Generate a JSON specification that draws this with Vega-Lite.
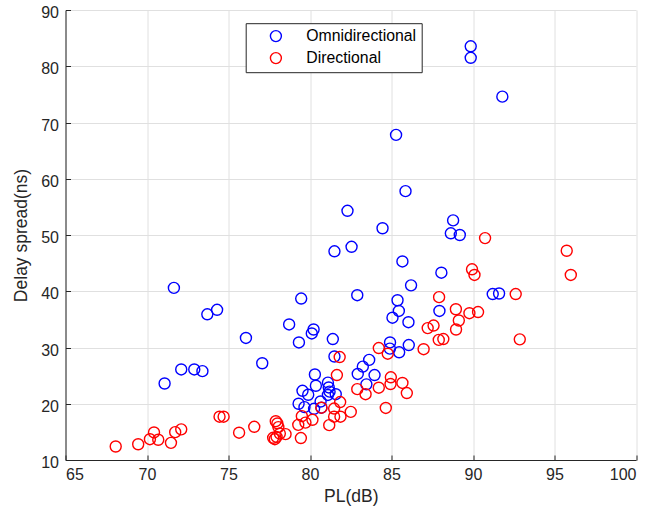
{
  "$schema": "https://vega.github.io/schema/vega-lite/v6.json",
  "autosize": {"type": "none"},
  "padding": {"left": 65.5, "top": 10, "right": 31, "bottom": 56},
  "width": 570.5,
  "height": 450,
  "background": "white",
  "config": {"view": {"stroke": null}, "font": "Liberation Sans"},
  "datasets": {
    "pts": [
      {"pl": 71.65, "delay": 40.6, "type": "Omnidirectional"},
      {"pl": 73.7, "delay": 35.9, "type": "Omnidirectional"},
      {"pl": 74.3, "delay": 36.7, "type": "Omnidirectional"},
      {"pl": 76.07, "delay": 31.7, "type": "Omnidirectional"},
      {"pl": 77.07, "delay": 27.2, "type": "Omnidirectional"},
      {"pl": 78.72, "delay": 34.1, "type": "Omnidirectional"},
      {"pl": 79.32, "delay": 30.9, "type": "Omnidirectional"},
      {"pl": 79.46, "delay": 38.7, "type": "Omnidirectional"},
      {"pl": 80.11, "delay": 32.5, "type": "Omnidirectional"},
      {"pl": 80.22, "delay": 33.2, "type": "Omnidirectional"},
      {"pl": 81.4, "delay": 31.5, "type": "Omnidirectional"},
      {"pl": 81.5, "delay": 47.1, "type": "Omnidirectional"},
      {"pl": 82.55, "delay": 47.9, "type": "Omnidirectional"},
      {"pl": 82.9, "delay": 39.3, "type": "Omnidirectional"},
      {"pl": 81.5, "delay": 28.4, "type": "Omnidirectional"},
      {"pl": 72.1, "delay": 26.1, "type": "Omnidirectional"},
      {"pl": 72.9, "delay": 26.1, "type": "Omnidirectional"},
      {"pl": 73.4, "delay": 25.8, "type": "Omnidirectional"},
      {"pl": 71.08, "delay": 23.6, "type": "Omnidirectional"},
      {"pl": 80.3, "delay": 25.2, "type": "Omnidirectional"},
      {"pl": 80.36, "delay": 23.2, "type": "Omnidirectional"},
      {"pl": 81.1, "delay": 23.75, "type": "Omnidirectional"},
      {"pl": 81.15, "delay": 22.9, "type": "Omnidirectional"},
      {"pl": 81.2, "delay": 22.15, "type": "Omnidirectional"},
      {"pl": 81.1, "delay": 21.56, "type": "Omnidirectional"},
      {"pl": 81.58, "delay": 21.7, "type": "Omnidirectional"},
      {"pl": 79.54, "delay": 22.3, "type": "Omnidirectional"},
      {"pl": 79.89, "delay": 21.6, "type": "Omnidirectional"},
      {"pl": 79.3, "delay": 20.0, "type": "Omnidirectional"},
      {"pl": 79.66, "delay": 19.4, "type": "Omnidirectional"},
      {"pl": 80.25, "delay": 19.1, "type": "Omnidirectional"},
      {"pl": 80.65, "delay": 20.4, "type": "Omnidirectional"},
      {"pl": 80.7, "delay": 19.3, "type": "Omnidirectional"},
      {"pl": 82.93, "delay": 25.3, "type": "Omnidirectional"},
      {"pl": 83.24, "delay": 26.6, "type": "Omnidirectional"},
      {"pl": 83.63, "delay": 27.8, "type": "Omnidirectional"},
      {"pl": 83.96, "delay": 25.1, "type": "Omnidirectional"},
      {"pl": 83.46, "delay": 23.45, "type": "Omnidirectional"},
      {"pl": 84.91, "delay": 30.9, "type": "Omnidirectional"},
      {"pl": 84.9, "delay": 29.8, "type": "Omnidirectional"},
      {"pl": 85.47, "delay": 29.15, "type": "Omnidirectional"},
      {"pl": 86.06, "delay": 30.44, "type": "Omnidirectional"},
      {"pl": 85.06, "delay": 35.3, "type": "Omnidirectional"},
      {"pl": 85.45, "delay": 36.5, "type": "Omnidirectional"},
      {"pl": 85.37, "delay": 38.4, "type": "Omnidirectional"},
      {"pl": 86.04, "delay": 34.5, "type": "Omnidirectional"},
      {"pl": 87.94, "delay": 36.5, "type": "Omnidirectional"},
      {"pl": 86.2, "delay": 41.05, "type": "Omnidirectional"},
      {"pl": 85.67, "delay": 45.3, "type": "Omnidirectional"},
      {"pl": 88.06, "delay": 43.3, "type": "Omnidirectional"},
      {"pl": 84.45, "delay": 51.2, "type": "Omnidirectional"},
      {"pl": 82.3, "delay": 54.3, "type": "Omnidirectional"},
      {"pl": 85.86, "delay": 57.8, "type": "Omnidirectional"},
      {"pl": 85.28, "delay": 67.8, "type": "Omnidirectional"},
      {"pl": 89.86, "delay": 83.55, "type": "Omnidirectional"},
      {"pl": 89.86, "delay": 81.5, "type": "Omnidirectional"},
      {"pl": 91.8, "delay": 74.6, "type": "Omnidirectional"},
      {"pl": 88.78, "delay": 52.6, "type": "Omnidirectional"},
      {"pl": 88.64, "delay": 50.3, "type": "Omnidirectional"},
      {"pl": 89.19, "delay": 50.0, "type": "Omnidirectional"},
      {"pl": 91.21, "delay": 39.5, "type": "Omnidirectional"},
      {"pl": 91.6, "delay": 39.6, "type": "Omnidirectional"},
      {"pl": 68.08, "delay": 12.4, "type": "Directional"},
      {"pl": 69.46, "delay": 12.8, "type": "Directional"},
      {"pl": 70.18, "delay": 13.7, "type": "Directional"},
      {"pl": 70.43, "delay": 14.9, "type": "Directional"},
      {"pl": 70.69, "delay": 13.6, "type": "Directional"},
      {"pl": 71.47, "delay": 13.05, "type": "Directional"},
      {"pl": 71.73, "delay": 14.95, "type": "Directional"},
      {"pl": 72.1, "delay": 15.45, "type": "Directional"},
      {"pl": 74.45, "delay": 17.7, "type": "Directional"},
      {"pl": 74.7, "delay": 17.7, "type": "Directional"},
      {"pl": 75.65, "delay": 14.85, "type": "Directional"},
      {"pl": 76.58, "delay": 15.9, "type": "Directional"},
      {"pl": 77.9, "delay": 16.9, "type": "Directional"},
      {"pl": 78.0, "delay": 16.5, "type": "Directional"},
      {"pl": 78.06, "delay": 15.85, "type": "Directional"},
      {"pl": 77.74, "delay": 13.95, "type": "Directional"},
      {"pl": 77.84, "delay": 13.7, "type": "Directional"},
      {"pl": 77.95, "delay": 14.1, "type": "Directional"},
      {"pl": 78.15, "delay": 14.7, "type": "Directional"},
      {"pl": 78.5, "delay": 14.6, "type": "Directional"},
      {"pl": 79.44, "delay": 13.9, "type": "Directional"},
      {"pl": 79.28, "delay": 16.25, "type": "Directional"},
      {"pl": 79.5, "delay": 17.8, "type": "Directional"},
      {"pl": 79.72, "delay": 16.65, "type": "Directional"},
      {"pl": 80.15, "delay": 17.15, "type": "Directional"},
      {"pl": 80.7, "delay": 19.3, "type": "Directional"},
      {"pl": 81.18, "delay": 16.2, "type": "Directional"},
      {"pl": 81.48, "delay": 19.15, "type": "Directional"},
      {"pl": 81.48, "delay": 17.7, "type": "Directional"},
      {"pl": 81.87, "delay": 17.7, "type": "Directional"},
      {"pl": 81.85, "delay": 20.3, "type": "Directional"},
      {"pl": 82.5, "delay": 18.55, "type": "Directional"},
      {"pl": 81.65, "delay": 25.1, "type": "Directional"},
      {"pl": 81.82, "delay": 28.3, "type": "Directional"},
      {"pl": 82.9, "delay": 22.6, "type": "Directional"},
      {"pl": 83.41, "delay": 21.7, "type": "Directional"},
      {"pl": 84.22, "delay": 22.85, "type": "Directional"},
      {"pl": 84.65, "delay": 19.25, "type": "Directional"},
      {"pl": 84.96, "delay": 24.7, "type": "Directional"},
      {"pl": 84.94, "delay": 23.5, "type": "Directional"},
      {"pl": 85.67, "delay": 23.7, "type": "Directional"},
      {"pl": 85.94, "delay": 21.9, "type": "Directional"},
      {"pl": 84.22, "delay": 29.9, "type": "Directional"},
      {"pl": 84.77, "delay": 28.9, "type": "Directional"},
      {"pl": 86.97, "delay": 29.7, "type": "Directional"},
      {"pl": 87.22, "delay": 33.45, "type": "Directional"},
      {"pl": 87.58, "delay": 33.9, "type": "Directional"},
      {"pl": 87.9, "delay": 31.35, "type": "Directional"},
      {"pl": 88.18, "delay": 31.5, "type": "Directional"},
      {"pl": 87.92, "delay": 38.95, "type": "Directional"},
      {"pl": 88.95, "delay": 36.8, "type": "Directional"},
      {"pl": 89.13, "delay": 34.8, "type": "Directional"},
      {"pl": 88.96, "delay": 33.2, "type": "Directional"},
      {"pl": 89.78, "delay": 36.1, "type": "Directional"},
      {"pl": 90.31, "delay": 36.3, "type": "Directional"},
      {"pl": 89.94, "delay": 43.9, "type": "Directional"},
      {"pl": 90.09, "delay": 42.9, "type": "Directional"},
      {"pl": 90.74, "delay": 49.45, "type": "Directional"},
      {"pl": 92.62, "delay": 39.5, "type": "Directional"},
      {"pl": 92.87, "delay": 31.45, "type": "Directional"},
      {"pl": 95.75, "delay": 47.2, "type": "Directional"},
      {"pl": 96.0, "delay": 42.9, "type": "Directional"}
    ]
  },
  "data": {"name": "pts"},
  "mark": {"type": "point", "shape": "circle", "filled": false, "size": 121, "strokeWidth": 1.4, "opacity": 1},
  "encoding": {
    "x": {
      "field": "pl", "type": "quantitative",
      "scale": {"domain": [65, 100], "nice": false, "zero": false},
      "axis": {
        "title": "PL(dB)", "values": [65, 70, 75, 80, 85, 90, 95, 100],
        "grid": true, "gridColor": "#e0e0e0", "gridWidth": 1,
        "domainColor": "#262626", "domainWidth": 1,
        "tickColor": "#262626", "tickSize": -5, "tickWidth": 1,
        "labelColor": "#262626", "labelFontSize": 16, "labelPadding": 11, "labelFont": "Liberation Sans",
        "titleColor": "#262626", "titleFontSize": 17.5, "titleFontWeight": "normal", "titleFont": "Liberation Sans", "titlePadding": 5
      }
    },
    "y": {
      "field": "delay", "type": "quantitative",
      "scale": {"domain": [10, 90], "nice": false, "zero": false},
      "axis": {
        "title": "Delay spread(ns)", "values": [10, 20, 30, 40, 50, 60, 70, 80, 90],
        "grid": true, "gridColor": "#e0e0e0", "gridWidth": 1,
        "domainColor": "#262626", "domainWidth": 1,
        "tickColor": "#262626", "tickSize": -5, "tickWidth": 1,
        "labelColor": "#262626", "labelFontSize": 16, "labelPadding": 12, "labelOffset": 2.5, "labelFont": "Liberation Sans",
        "titleColor": "#262626", "titleFontSize": 17.5, "titleFontWeight": "normal", "titleFont": "Liberation Sans", "titlePadding": 10
      }
    },
    "color": {
      "field": "type", "type": "nominal",
      "scale": {"domain": ["Omnidirectional", "Directional"], "range": ["#0000ff", "#ff0000"]},
      "legend": {
        "title": null, "orient": "none", "legendX": 180.2, "legendY": 13.2,
        "fillColor": "white", "strokeColor": "#262626",
        "padding": 5, "symbolOffset": 17.3, "labelOffset": 22.5, "rowPadding": 4,
        "symbolType": "circle", "symbolSize": 121, "symbolStrokeWidth": 1.4, "symbolFillColor": "transparent",
        "labelFontSize": 15.8, "labelColor": "#000000", "labelFont": "Liberation Sans", "labelLimit": 300
      }
    }
  }
}
